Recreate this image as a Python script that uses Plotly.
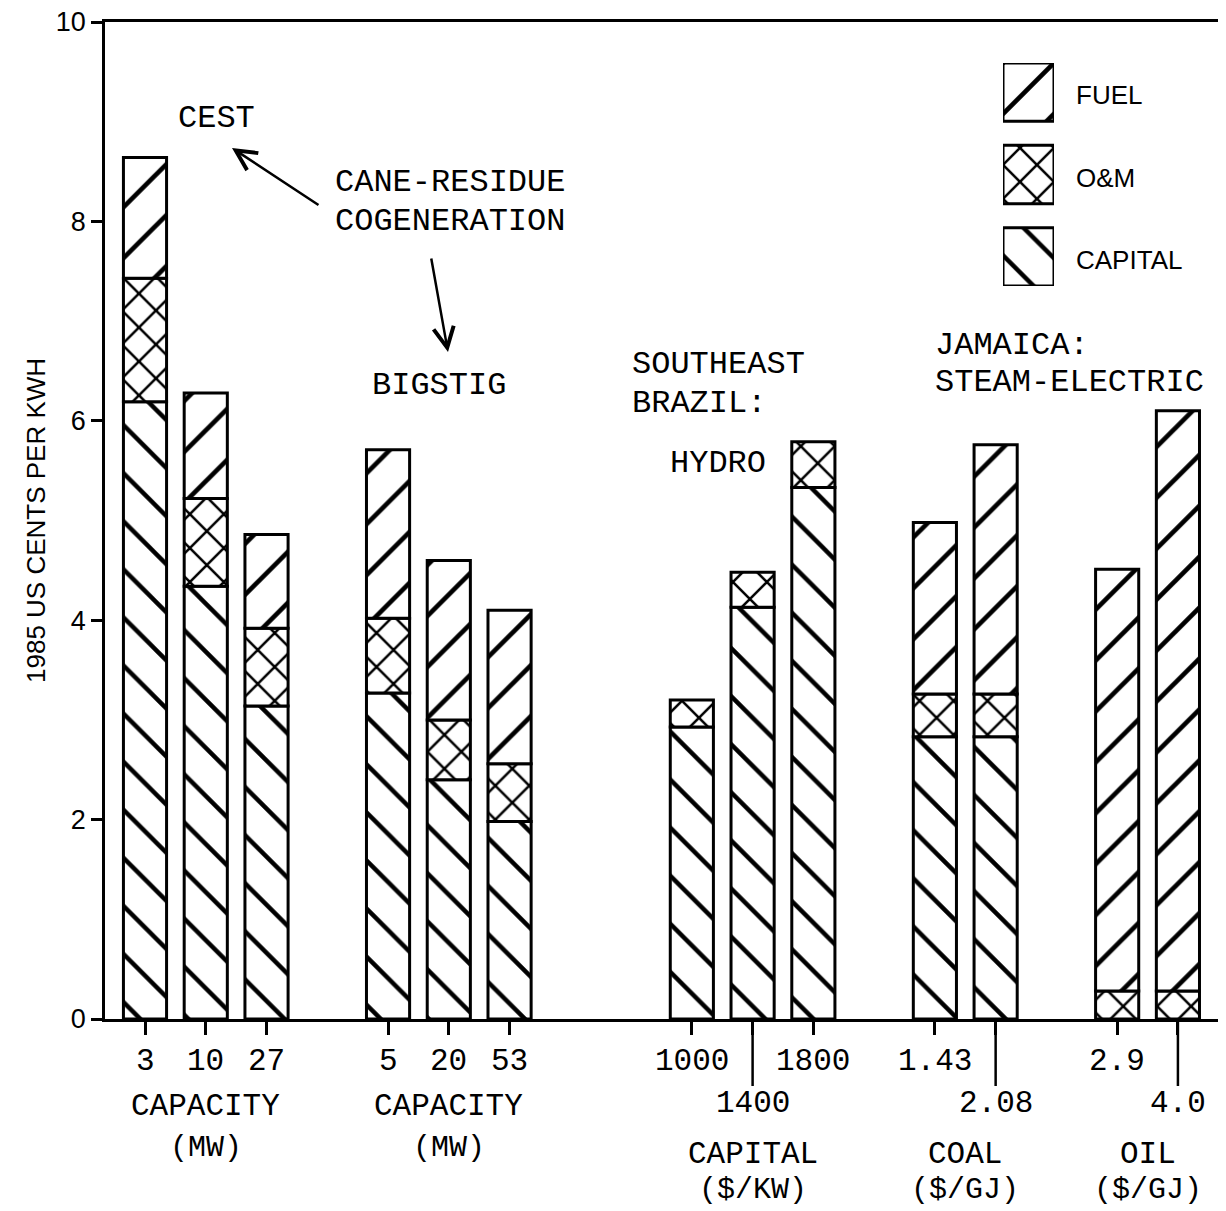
import plotly.graph_objects as go

# ---------------- data ----------------
tick_labels = ["3", "10", "27", "5", "20", "53", "1000", "1400", "1800",
               "1.43", "2.08", "2.9", "4.0"]
lower_row = [False, False, False, False, False, False, False, True, False,
             False, True, False, True]
group_names = ["CAPACITY", "CAPACITY", "CAPITAL", "COAL", "OIL"]
group_units = ["(MW)", "(MW)", "($/KW)", "($/GJ)", "($/GJ)"]
group_sizes = [3, 3, 3, 2, 2]

capital = [6.19, 4.34, 3.14, 3.27, 2.40, 1.98, 2.93, 4.13, 5.33, 2.83, 2.83, 0.0, 0.0]
om      = [1.24, 0.88, 0.78, 0.75, 0.60, 0.58, 0.27, 0.35, 0.46, 0.43, 0.43, 0.28, 0.28]
fuel    = [1.21, 1.06, 0.94, 1.69, 1.60, 1.54, 0.0, 0.0, 0.0, 1.72, 2.50, 4.23, 5.82]

series_names = ["CAPITAL", "O&M", "FUEL"]
y_title = "1985 US CENTS PER KWH"

# ---------------- layout helpers ----------------
group_gaps = [0, 2, 3, 2, 2]          # slot offset before each group
slots = []
s = -1
for g, n in enumerate(group_sizes):
    s += group_gaps[g] if g > 0 else 1
    for i in range(n):
        if i > 0:
            s += 1
        slots.append(s)
group_centers = []
k = 0
for n in group_sizes:
    group_centers.append(sum(slots[k:k + n]) / n)
    k += n

OFF = 8                      # page body margin in the browser
W, H = 1226 - OFF, 1211 - OFF
# plot area in reference (page) pixels
PL, PR, PT, PB = 105, 1222, 22, 1019
ML, MR, MT, MB = PL - OFF, 1226 - PR, PT - OFF, 1211 - PB
PW, PH = PR - PL, PB - PT


def px(x):
    return (x - PL) / PW


def py(y):
    return (PB - y) / PH


MONO = "Liberation Mono"
SANS = "Liberation Sans"
PAT = {"CAPITAL": "\\", "O&M": "x", "FUEL": "/"}
PSIZE = {"CAPITAL": 34, "O&M": 24, "FUEL": 36}
PSOL = {"CAPITAL": 0.13, "O&M": 0.2, "FUEL": 0.13}


def nz(v):
    return [None if a == 0 else a for a in v]


base_om = capital
base_fuel = [a + b for a, b in zip(capital, om)]


def marker(name):
    return dict(color="white", line=dict(color="black", width=3),
                pattern=dict(shape=PAT[name], fgcolor="black", bgcolor="white",
                             fgopacity=1, size=PSIZE[name], solidity=PSOL[name]))


fig = go.Figure()
for name, vals, base in [("CAPITAL", capital, [0] * len(capital)),
                         ("O&M", om, base_om),
                         ("FUEL", fuel, base_fuel)]:
    fig.add_trace(go.Bar(x=slots, y=nz(vals), base=base, name=name, width=0.71,
                         marker=marker(name), showlegend=False, hoverinfo="skip"))

# legend swatches (separate small axes)
leg_h = 58
leg_bases = {"FUEL": 164, "O&M": 82, "CAPITAL": 0}
for name in ["FUEL", "O&M", "CAPITAL"]:
    fig.add_trace(go.Bar(x=[0], y=[leg_h], base=[leg_bases[name]], width=1,
                         xaxis="x2", yaxis="y2", marker=marker(name),
                         showlegend=False, hoverinfo="skip"))

ann = []
for name, yy in [("FUEL", 95), ("O&M", 178), ("CAPITAL", 260)]:
    ann.append(dict(x=px(1074), y=py(yy), xref="paper", yref="paper", text=name,
                    showarrow=False, xanchor="left", yanchor="middle",
                    font=dict(family=SANS, size=26, color="black")))

for sl, lab, low in zip(slots, tick_labels, lower_row):
    ann.append(dict(x=sl, y=py(1103 if low else 1061), xref="x", yref="paper",
                    text=lab, showarrow=False, xanchor="center", yanchor="middle",
                    font=dict(family=MONO, size=31, color="black")))
for gi, (gc, gn, gu) in enumerate(zip(group_centers, group_names, group_units)):
    y1, y2 = (1106, 1148) if gi < 2 else (1154, 1190)
    ann.append(dict(x=gc, y=py(y1), xref="x", yref="paper", text=gn, showarrow=False,
                    xanchor="center", yanchor="middle",
                    font=dict(family=MONO, size=31, color="black")))
    ann.append(dict(x=gc, y=py(y2), xref="x", yref="paper", text=gu, showarrow=False,
                    xanchor="center", yanchor="middle",
                    font=dict(family=MONO, size=30, color="black")))

ann.append(dict(x=px(36), y=py(521), xref="paper", yref="paper", text=y_title,
                textangle=-90, showarrow=False, xanchor="center", yanchor="middle",
                font=dict(family=SANS, size=26, color="black")))

texts = [("CEST", 176, 118), ("CANE-RESIDUE", 333, 183), ("COGENERATION", 333, 222),
         ("BIGSTIG", 370, 385), ("SOUTHEAST", 630, 365), ("BRAZIL:", 630, 404),
         ("HYDRO", 668, 463), ("JAMAICA:", 933, 345), ("STEAM-ELECTRIC", 933, 383)]
for t, xx, yy in texts:
    ann.append(dict(x=px(xx), y=py(yy), xref="paper", yref="paper", text=t,
                    showarrow=False, xanchor="left", yanchor="middle",
                    font=dict(family=MONO, size=32, color="black")))

for (hx, hy, tx, ty) in [(232, 148, 320, 206), (448, 352, 431, 257)]:
    ann.append(dict(x=px(hx), y=py(hy), xref="paper", yref="paper", text="",
                    showarrow=True, ax=tx - hx, ay=ty - hy, arrowhead=5,
                    arrowsize=1.6, arrowwidth=2.5, arrowcolor="black"))

shapes = []
for sl, low in zip(slots, lower_row):
    if low:
        shapes.append(dict(type="line", xref="x", yref="paper", x0=sl, x1=sl,
                           y0=0, y1=py(1086), line=dict(color="black", width=2.5)))

SLOT0, SLOTPX = 145, 60.76
xr0 = (PL - SLOT0) / SLOTPX
xr1 = (PR - SLOT0) / SLOTPX

fig.update_layout(
    width=W, height=H, margin=dict(l=ML, r=MR, t=MT, b=MB, autoexpand=False),
    paper_bgcolor="white", plot_bgcolor="white", barmode="overlay",
    font=dict(family=SANS, color="black"),
    xaxis=dict(range=[xr0, xr1], tickvals=slots, showticklabels=False,
               ticks="outside", ticklen=13, tickwidth=2.5, tickcolor="black",
               showline=True, linewidth=2.5, linecolor="black", mirror=True,
               showgrid=False, zeroline=False, fixedrange=True),
    yaxis=dict(range=[0, 10], tickvals=[0, 2, 4, 6, 8, 10], ticks="outside",
               ticklen=11, tickwidth=2.5, tickcolor="black",
               ticklabeloverflow="allow",
               tickfont=dict(family=SANS, size=27, color="black"),
               showline=True, linewidth=2.5, linecolor="black", mirror=True,
               showgrid=False, zeroline=False, fixedrange=True),
    xaxis2=dict(domain=[px(1003), px(1054)], range=[-0.5, 0.5], visible=False,
                anchor="y2", fixedrange=True),
    yaxis2=dict(domain=[py(286), py(63)], range=[0, 222], visible=False,
                anchor="x2", fixedrange=True),
    annotations=ann, shapes=shapes,
)

fig.write_html("out.html")
